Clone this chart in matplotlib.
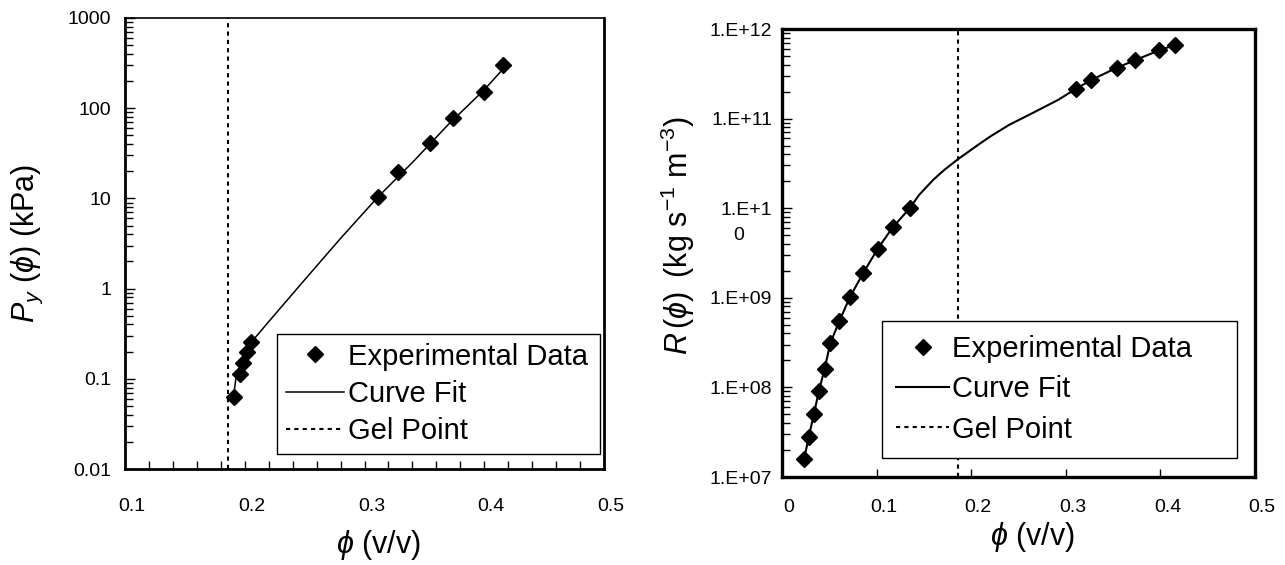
import numpy as np
import matplotlib
matplotlib.use("Agg")
import matplotlib.pyplot as plt
from matplotlib.transforms import ScaledTranslation

plt.rcParams['font.family'] = ['Liberation Sans', 'DejaVu Sans']
plt.rcParams['mathtext.fontset'] = 'custom'
plt.rcParams['mathtext.rm'] = 'Liberation Sans'
plt.rcParams['mathtext.it'] = 'Liberation Sans:italic'

# left panel: yield stress
py_x = [0.191, 0.196, 0.1985, 0.202, 0.2056, 0.311, 0.328, 0.355, 0.374, 0.400, 0.416]
py_y = [0.063, 0.114, 0.15, 0.20, 0.254, 10.4, 19.8, 41, 78, 150, 300]
py_fit_x = [0.1905, 0.193, 0.1965, 0.2, 0.205, 0.22, 0.25, 0.28, 0.311, 0.34, 0.37, 0.40, 0.416]
py_fit_y = [0.062, 0.11, 0.135, 0.19, 0.25, 0.43, 1.25, 3.6, 10.3, 25, 66, 160, 275]

# right panel: hindered settling resistance
r_x = [0.0235, 0.0283, 0.0336, 0.039, 0.045, 0.051, 0.0606, 0.072, 0.086, 0.101, 0.117, 0.135,
       0.311, 0.327, 0.354, 0.3736, 0.399, 0.415]
r_y = [1.6e7, 2.8e7, 5.0e7, 9.1e7, 1.6e8, 3.1e8, 5.5e8, 1.03e9, 1.9e9, 3.5e9, 6.1e9, 1.0e10,
       2.16e11, 2.7e11, 3.7e11, 4.5e11, 5.8e11, 6.6e11]
r_fit_x = [0.0235, 0.0283, 0.0336, 0.039, 0.045, 0.051, 0.0606, 0.072, 0.086, 0.101, 0.117, 0.135,
           0.145, 0.16, 0.172, 0.1857, 0.205, 0.22, 0.24, 0.266, 0.292, 0.311, 0.327, 0.354,
           0.3736, 0.399, 0.415]
r_fit_y = [1.6e7, 2.8e7, 5.0e7, 9.1e7, 1.6e8, 3.1e8, 5.5e8, 1.03e9, 1.9e9, 3.5e9, 6.1e9, 1.0e10,
           1.41e10, 2.08e10, 2.7e10, 3.5e10, 4.9e10, 6.3e10, 8.5e10, 1.17e11, 1.62e11, 2.16e11,
           2.7e11, 3.7e11, 4.5e11, 5.8e11, 6.6e11]

gel_point = 0.186

py_yticks = [0.01, 0.1, 1, 10, 100, 1000]
py_ylabels = ['0.01', '0.1', '1', '10', '100', '1000']
py_xticks = [0.1, 0.2, 0.3, 0.4, 0.5]
r_yticks = [1e7, 1e8, 1e9, 1e10, 1e11, 1e12]
r_ylabels = ['1.E+07', '1.E+08', '1.E+09', '1.E+1', '1.E+11', '1.E+12']
r_xticks = [0, 0.1, 0.2, 0.3, 0.4, 0.5]
r_xlabels = ['0', '0.1', '0.2', '0.3', '0.4', '0.5']

fig = plt.figure(figsize=(12.85, 5.65), dpi=100)
ax1 = fig.add_axes([125/1285, 96/565, 479/1285, 451/565])
ax2 = fig.add_axes([782/1285, 88/565, 473/1285, 448/565])

dots = (0, (2, 2))


def style(ax, ypad, xpad):
    ax.tick_params(which='both', direction='in', labelsize=14, colors='black')
    ax.tick_params(axis='y', which='major', length=7, width=1, pad=ypad)
    ax.tick_params(axis='y', which='minor', length=6, width=1)
    ax.tick_params(axis='x', which='both', length=6, width=1, pad=xpad)
    off = ScaledTranslation(7/100, 0, fig.dpi_scale_trans)
    for lab in ax.get_xticklabels():
        lab.set_transform(lab.get_transform() + off)


# ---- left ----
ax1.plot(py_fit_x, py_fit_y, color='black', lw=1.1, label='Curve Fit', zorder=2)
ax1.plot(py_x, py_y, 'D', color='black', ms=8, label='Experimental Data', zorder=3)
ax1.axvline(gel_point, color='black', ls=dots, lw=1.5, label='Gel Point', zorder=1)
ax1.set_yscale('log')
ax1.set_xlim(0.1, 0.5)
ax1.set_ylim(0.01, 1000)
ax1.set_yticks(py_yticks)
ax1.set_yticklabels(py_ylabels)
ax1.set_xticks(py_xticks)
ax1.set_xticklabels(['0.1', '0.2', '0.3', '0.4', '0.5'])
ax1.set_xticks(np.arange(0.1, 0.5, 0.02), minor=True)
style(ax1, 10, 21)
ax1.spines['top'].set_linewidth(1.2)
for s in ['left', 'bottom', 'right']:
    ax1.spines[s].set_linewidth(2)
ax1.set_xlabel(r'$\phi\ \mathrm{(v/v)}$', fontsize=22)
ax1.xaxis.set_label_coords(0.53, -0.13)
ax1.set_ylabel(r'$P_y\ (\phi)\ \mathrm{(kPa)}$', fontsize=22)
ax1.yaxis.set_label_coords(-0.168, 0.5)
h, l = ax1.get_legend_handles_labels()
leg1 = ax1.legend([h[1], h[0], h[2]], [l[1], l[0], l[2]], loc='lower left',
                  bbox_to_anchor=(0.317, 0.033, 0.675, 0.26), mode='expand',
                  fontsize=21, frameon=True, fancybox=False,
                  edgecolor='black', framealpha=1, borderpad=0.3, labelspacing=0.32,
                  handlelength=2.0, handletextpad=0.15, borderaxespad=0)
leg1.get_frame().set_linewidth(1)

# ---- right ----
ax2.plot(r_fit_x, r_fit_y, color='black', lw=1.5, label='Curve Fit', zorder=2)
ax2.plot(r_x, r_y, 'D', color='black', ms=8, label='Experimental Data', zorder=3)
ax2.axvline(gel_point, color='black', ls=dots, lw=1.5, label='Gel Point', zorder=1)
ax2.set_yscale('log')
ax2.set_xlim(0, 0.5)
ax2.set_ylim(1e7, 1e12)
ax2.set_yticks(r_yticks)
ax2.set_yticklabels(r_ylabels)
ax2.set_xticks(r_xticks)
ax2.set_xticklabels(r_xlabels)
ax2.xaxis.set_minor_locator(matplotlib.ticker.NullLocator())
style(ax2, 7, 16)
for s in ['left', 'bottom', 'right', 'top']:
    ax2.spines[s].set_linewidth(2.4)
ax2.annotate('0', xy=(0, 1e10), xycoords=('axes fraction', 'data'), xytext=(-31.5, -20),
             textcoords='offset points', ha='center', va='center', fontsize=14)
ax2.set_xlabel(r'$\phi\ \mathrm{(v/v)}$', fontsize=22)
ax2.xaxis.set_label_coords(0.53, -0.096)
ax2.set_ylabel(r'$R\,(\phi)\;\;\mathrm{(kg\ s^{-1}\ m^{-3})}$', fontsize=22)
ax2.yaxis.set_label_coords(-0.18, 0.54)
h, l = ax2.get_legend_handles_labels()
leg2 = ax2.legend([h[1], h[0], h[2]], [l[1], l[0], l[2]], loc='lower left',
                  bbox_to_anchor=(0.211, 0.042, 0.752, 0.31), mode='expand',
                  fontsize=21, frameon=True, fancybox=False,
                  edgecolor='black', framealpha=1, borderpad=0.5, labelspacing=0.42,
                  handlelength=1.8, handletextpad=0.12, borderaxespad=0)
leg2.get_frame().set_linewidth(1)

fig.savefig('out.png', dpi=100)
